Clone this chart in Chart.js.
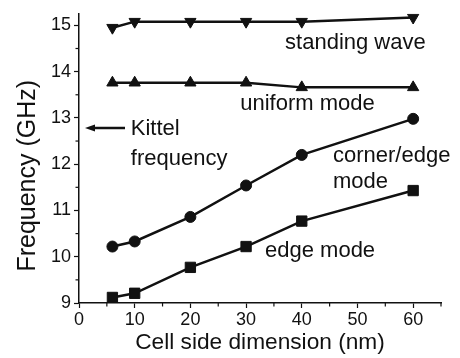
<!DOCTYPE html>
<html><head><meta charset="utf-8">
<script src="https://cdn.jsdelivr.net/npm/chart.js@4"></script>
<style>html,body{margin:0;padding:0;background:#fff}#wrap{width:460px;height:358px}</style>
</head><body><div id="wrap"><canvas id="c" width="460" height="358"></canvas></div>
<script>
const cellSizes = [6, 10, 20, 30, 40, 60];
const standingWave = [14.95, 15.08, 15.08, 15.08, 15.08, 15.17];
const uniformMode = [13.76, 13.76, 13.76, 13.76, 13.66, 13.66];
const cornerEdgeMode = [10.22, 10.33, 10.86, 11.54, 12.2, 12.98];
const edgeMode = [9.12, 9.21, 9.77, 10.22, 10.77, 11.43];
const xTicks = [0, 10, 20, 30, 40, 50, 60];
const yTicks = [9, 10, 11, 12, 13, 14, 15];
const kittelFrequency = 12.78;
const xTitle = 'Cell side dimension (nm)';
const yTitle = 'Frequency (GHz)';
const labels = [
  {text: 'standing wave', x: 37.0, y: 14.5},
  {text: 'uniform mode', x: 28.95, y: 13.18},
  {text: 'Kittel', x: 9.3, y: 12.63},
  {text: 'frequency', x: 9.3, y: 11.985},
  {text: 'corner/edge', x: 45.6, y: 12.04},
  {text: 'mode', x: 45.6, y: 11.48},
  {text: 'edge mode', x: 33.4, y: 9.985}
];

const ink = '#111';
const font = 'Liberation Sans, Arial, sans-serif';

function ds(data, style, radius) {
  return {
    data: cellSizes.map((x, i) => ({x, y: data[i]})),
    borderColor: ink, backgroundColor: ink, borderWidth: 2.5,
    pointStyle: style, pointRadius: radius, pointRotation: 0,
    pointBackgroundColor: ink, pointBorderColor: ink, pointBorderWidth: 1,
    tension: 0, showLine: true
  };
}
const sets = [
  ds(standingWave, 'triangle', 6.5),
  ds(uniformMode, 'triangle', 6.5),
  ds(cornerEdgeMode, 'circle', 5.5),
  ds(edgeMode, 'rect', 7.3)
];
sets[0].pointRotation = 180;

const overlay = {
  id: 'overlay',
  afterDraw(chart) {
    const ctx = chart.ctx, xs = chart.scales.x, ys = chart.scales.y;
    ctx.save();
    ctx.strokeStyle = ink; ctx.lineWidth = 1.2;
    const yb = ys.bottom;
    for (let v = 5; v <= 65; v += 10) {
      const px = xs.getPixelForValue(v);
      ctx.beginPath(); ctx.moveTo(px, yb); ctx.lineTo(px, yb + 3.5); ctx.stroke();
    }
    const xl = xs.left;
    for (let v = 9.5; v <= 15; v += 1) {
      const py = ys.getPixelForValue(v);
      ctx.beginPath(); ctx.moveTo(xl, py); ctx.lineTo(xl - 3.5, py); ctx.stroke();
    }
    ctx.fillStyle = ink;
    ctx.font = '22px ' + font;
    ctx.textAlign = 'left'; ctx.textBaseline = 'alphabetic';
    labels.forEach(l => ctx.fillText(l.text, xs.getPixelForValue(l.x), ys.getPixelForValue(l.y)));
    // y axis title
    ctx.save();
    ctx.translate(35, ys.getPixelForValue(11.75));
    ctx.rotate(-Math.PI / 2);
    ctx.font = '25px ' + font;
    ctx.textAlign = 'center';
    ctx.fillText(yTitle, 0, 0);
    ctx.restore();
    // Kittel arrow
    const ay = ys.getPixelForValue(kittelFrequency);
    const ax0 = xs.getPixelForValue(0) + 6, ax1 = xs.getPixelForValue(0) + 46;
    ctx.lineWidth = 2.5;
    ctx.beginPath(); ctx.moveTo(ax1, ay); ctx.lineTo(ax0 + 6, ay); ctx.stroke();
    ctx.beginPath(); ctx.moveTo(ax0, ay); ctx.lineTo(ax0 + 10, ay - 3.5); ctx.lineTo(ax0 + 10, ay + 3.5); ctx.closePath(); ctx.fill();
    ctx.restore();
  }
};

new Chart(document.getElementById('c'), {
  type: 'scatter',
  data: {datasets: sets},
  plugins: [overlay],
  options: {
    responsive: false, animation: false, devicePixelRatio: 1,
    layout: {padding: {top: 10, right: 19, left: 0, bottom: 0}},
    plugins: {legend: {display: false}, tooltip: {enabled: false}},
    scales: {
      x: {
        type: 'linear', min: 0, max: 65,
        afterBuildTicks: s => { s.ticks = xTicks.map(v => ({value: v})); },
        afterFit: s => { s.height = 55; },
        border: {color: ink, width: 1.5},
        grid: {drawOnChartArea: false, tickLength: 5, tickColor: ink, tickWidth: 1.2},
        ticks: {color: ink, font: {family: font, size: 18}, padding: 1, maxRotation: 0},
        title: {display: true, text: xTitle, color: ink, font: {family: font, size: 22.7}, padding: {top: 0, bottom: 2}}
      },
      y: {
        type: 'linear', min: 9, max: 15.25,
        afterBuildTicks: s => { s.ticks = yTicks.map(v => ({value: v})); },
        afterFit: s => { s.width = 79; },
        border: {color: ink, width: 1.5},
        grid: {drawOnChartArea: false, tickLength: 5, tickColor: ink, tickWidth: 1.2},
        ticks: {color: ink, font: {family: font, size: 18}, padding: 3},
        title: {display: false}
      }
    }
  }
});
</script></body></html>
